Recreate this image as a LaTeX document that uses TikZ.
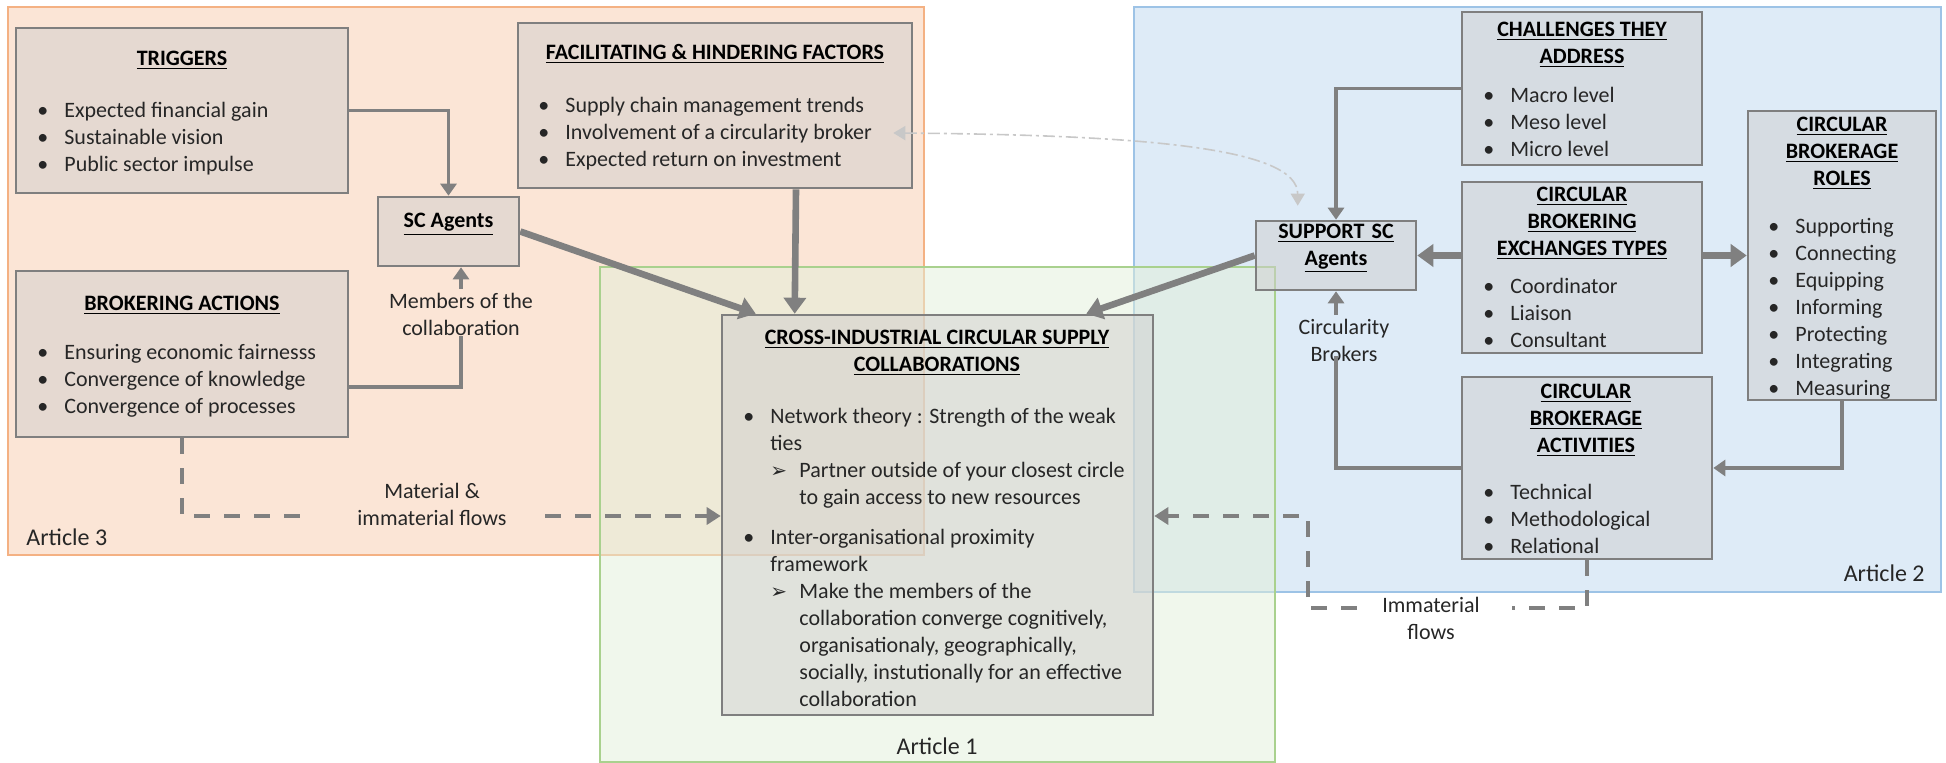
\documentclass[tikz,border=0pt]{standalone}
\usepackage{fontspec}
\setmainfont{Carlito}
\newfontfamily\dejavu{DejaVu Sans}
\usetikzlibrary{arrows.meta,calc,fit}

\definecolor{artorange}{RGB}{251,229,214}
\definecolor{artorangeline}{RGB}{244,177,131}
\definecolor{artblue}{RGB}{222,235,247}
\definecolor{artblueline}{RGB}{157,195,230}
\definecolor{artgreen}{RGB}{226,240,217}
\definecolor{artgreenline}{RGB}{169,209,142}
\definecolor{boxfill}{RGB}{208,206,206}
\definecolor{boxline}{RGB}{127,127,127}
\definecolor{arrgray}{RGB}{128,128,128}
\definecolor{linkgray}{RGB}{200,200,200}
\definecolor{txtgray}{RGB}{38,38,38}

\newcommand{\bodyfont}{\fontsize{11}{13.5}\selectfont}
\newcommand{\bul}{\strut\makebox[13.5pt][l]{\textbullet}}
\newcommand{\subarr}{\makebox[14.5pt][l]{\fontsize{10}{13.5}\selectfont\dejavu ➢}}

\begin{document}
\begin{tikzpicture}[x=0.5pt,y=0.5pt,
  every node/.style={font=\bodyfont},
  box/.style={draw=boxline,line width=1.3pt,fill=boxfill,fill opacity=0.5,text opacity=1,inner sep=0pt},
  ttl/.style={font=\bodyfont\bfseries,align=center,inner sep=0pt,anchor=north,text=black},
  lst/.style={align=left,inner sep=0pt,anchor=north west,text=txtgray},
  lbl/.style={align=center,inner sep=0pt,anchor=north,text=txtgray},
  art/.style={inner sep=0pt,text=txtgray,font=\fontsize{12}{14}\selectfont},
  arr/.style={draw=arrgray,line width=1.7pt,-{Triangle[length=6pt,width=8pt]}},
  ln/.style={draw=arrgray,line width=1.7pt},
  bigarr/.style={draw=arrgray,line width=3.3pt,-{Triangle[length=8pt,width=11pt]}},
  flow/.style={draw=arrgray,line width=1.7pt,dash pattern=on 8pt off 7pt},
  flowarr/.style={flow,-{Triangle[length=7pt,width=8.5pt]}},
  link/.style={draw=linkgray,line width=0.8pt,dash pattern=on 6pt off 2pt on 1.5pt off 2pt,{Triangle[length=6pt,width=7pt]}-{Triangle[length=6pt,width=7pt]}}]
\useasboundingbox (0,0) rectangle (1946,-763);

\draw[draw=artorangeline,fill=artorange,line width=1.3pt] (8,-7) rectangle (924,-555);
\draw[draw=artblueline,fill=artblue,line width=1.3pt] (1134,-7) rectangle (1941,-592);
\draw[draw=artgreenline,fill=artgreen,fill opacity=0.5,line width=1.3pt] (600,-267) rectangle (1275,-762);
\node[art,anchor=west] (art3) at (26,-537) {Article 3};
\node[art] (art1) at (937,-746) {Article 1};
\node[art,anchor=east] (art2) at (1925,-573) {Article 2};

\node[box,fit={(16,-28) (348,-193)}] (trig) {};
\node[ttl] (trigT) at (182,-46) {\strut\underline{TRIGGERS}};
\node[lst] (trigL) at (37,-98) {\bul Expected financial gain\\\bul Sustainable vision\\\bul Public sector impulse};

\node[box,fit={(518,-23) (912,-188)}] (facil) {};
\node[ttl] (facilT) at (715,-40) {\strut\underline{FACILITATING \& HINDERING FACTORS}};
\node[lst] (facilL) at (538,-93) {\bul Supply chain management trends\\\bul Involvement of a circularity broker\\\bul Expected return on investment};

\node[box,fit={(378,-197) (519,-266)},font=\bodyfont\bfseries,text=black] (scag) {\underline{SC Agents}};

\node[box,fit={(16,-271) (348,-437)}] (brok) {};
\node[ttl] (brokT) at (182,-291) {\strut\underline{BROKERING ACTIONS}};
\node[lst] (brokL) at (37,-340) {\bul Ensuring economic fairnesss\\\bul Convergence of knowledge\\\bul Convergence of processes};

\node[lbl] (mem) at (461,-289) {\strut Members of the\\collaboration};
\node[lbl] (matl) at (432,-479) {\strut Material \&\\immaterial flows};
\coordinate (mf1) at (310,-516);
\coordinate (mf2) at (545,-516);

\node[box,fit={(722,-315) (1153,-715)}] (cross) {};
\node[ttl] (crossT) at (937,-325) {\strut\underline{CROSS-INDUSTRIAL CIRCULAR SUPPLY}\\\underline{COLLABORATIONS}};
\node[lst] (crossL) at (743,-404) {\bul Network theory : Strength of the weak\\
  \hspace*{13.5pt}ties\\
  \hspace*{13.5pt}\subarr Partner outside of your closest circle\\
  \hspace*{28pt}to gain access to new resources\\[6.75pt]
  \bul Inter-organisational proximity\\
  \hspace*{13.5pt}framework\\
  \hspace*{13.5pt}\subarr Make the members of the\\
  \hspace*{28pt}collaboration converge cognitively,\\
  \hspace*{28pt}organisationaly, geographically,\\
  \hspace*{28pt}socially, instutionally for an effective\\
  \hspace*{28pt}collaboration};

\node[box,fit={(1256,-221) (1416,-290)},font=\bodyfont\bfseries,text=black,align=center] (sup) {\underline{SUPPORT SC}\\\underline{Agents}};

\node[box,fit={(1462,-12) (1702,-165)}] (chal) {};
\node[ttl] (chalT) at (1582,-17) {\strut\underline{CHALLENGES THEY}\\\underline{ADDRESS}};
\node[lst] (chalL) at (1483,-83) {\bul Macro level\\\bul Meso level\\\bul Micro level};

\node[box,fit={(1462,-182) (1702,-353)}] (exch) {};
\node[ttl] (exchT) at (1582,-182) {\strut\underline{CIRCULAR}\\\underline{BROKERING}\\\underline{EXCHANGES TYPES}};
\node[lst] (exchL) at (1483,-274) {\bul Coordinator\\\bul Liaison\\\bul Consultant};

\node[box,fit={(1748,-111) (1936,-400)}] (roles) {};
\node[ttl] (rolesT) at (1842,-112) {\strut\underline{CIRCULAR}\\\underline{BROKERAGE}\\\underline{ROLES}};
\node[lst] (rolesL) at (1768,-214) {\bul Supporting\\\bul Connecting\\\bul Equipping\\\bul Informing\\\bul Protecting\\\bul Integrating\\\bul Measuring};

\node[box,fit={(1462,-377) (1712,-559)}] (act) {};
\node[ttl] (actT) at (1586,-379) {\strut\underline{CIRCULAR}\\\underline{BROKERAGE}\\\underline{ACTIVITIES}};
\node[lst] (actL) at (1483,-480) {\bul Technical\\\bul Methodological\\\bul Relational};

\node[lbl] (circ) at (1344,-315) {\strut Circularity\\Brokers};
\node[lbl] (imm) at (1431,-593) {\strut Immaterial\\flows};
\coordinate (if1) at (1512,-608);
\coordinate (if2) at (1357,-608);
\coordinate (ic) at (1308,-516);

\draw[arr] (trig.east) -| (scag.north);
\draw[ln] ($(brok.east)+(0,-33)$) -| (mem.south);
\draw[arr] (mem.north) -- (mem.north |- scag.south);
\draw[flow] (brok.south) |- (mf1);
\draw[flowarr] (mf2) -- (mf2 -| cross.west);
\draw[bigarr] (scag.east) -- ($(cross.north west)+(35,0)$);
\draw[bigarr] ($(facil.south)+(81,0)$) -- ($(cross.north west)+(74,0)$);
\draw[bigarr] (sup.west) -- ($(cross.north east)+(-68,0)$);

\draw[arr] (chal.west) -| (sup.north);
\draw[bigarr] (exch.west |- sup.east) -- (sup.east);
\draw[bigarr] (exch.east |- sup.east) -- (roles.west |- sup.east);
\draw[arr] (roles.south) |- (act.east);
\draw[ln] (act.west) -| ($(circ.south -| sup.south)+(0,6)$);
\draw[arr] (circ.north -| sup.south) -- (sup.south);
\draw[flow] (act.south) |- (if1);
\draw[flowarr] (if2) -| (ic) -- (ic -| cross.east);

\draw[link] ($(facil.east)+(-20,-27.5)$) .. controls +(258,-2) and +(0,57) .. ($(sup.north west)+(43,14)$);
\end{tikzpicture}
\end{document}
